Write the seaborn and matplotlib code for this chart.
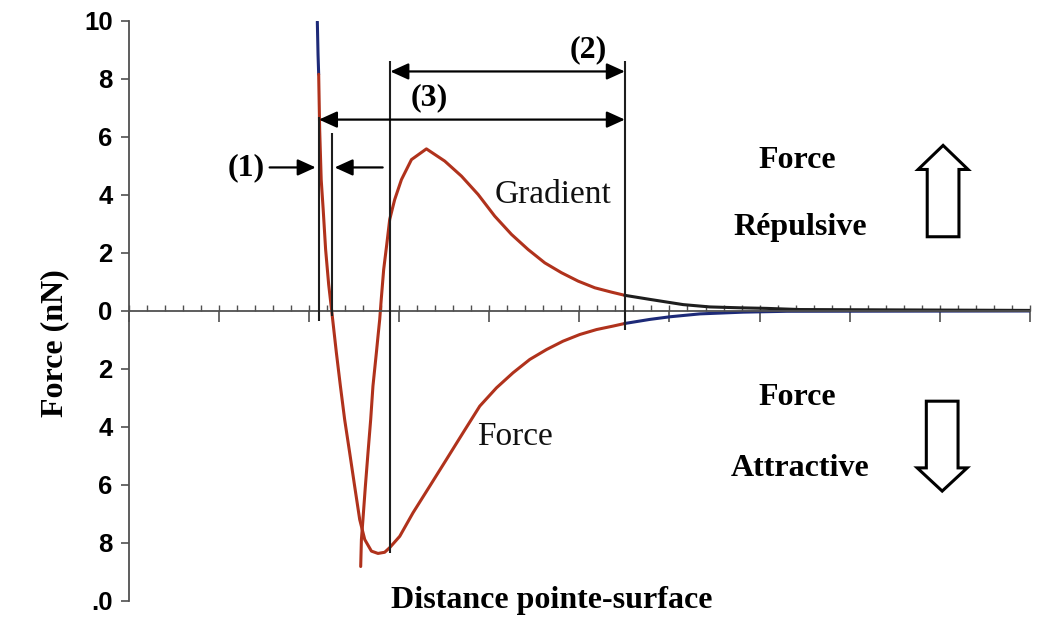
import numpy as np
import pandas as pd
import seaborn as sns
import matplotlib
matplotlib.use("Agg")
import matplotlib.pyplot as plt
from matplotlib.patches import Polygon

# Tip-sample force and force gradient versus tip-surface distance (arbitrary units)
force_x = [2.094, 2.102, 2.109, 2.120, 2.137, 2.159, 2.186, 2.220, 2.253, 2.305,
           2.350, 2.397, 2.453, 2.508, 2.564, 2.620, 2.694, 2.767, 2.841, 2.897,
           3.008, 3.155, 3.341, 3.526, 3.710, 3.896, 4.081, 4.265, 4.451, 4.636,
           4.820, 5.006, 5.191, 5.375, 5.505, 5.783, 6.004, 6.337, 6.815, 7.303,
           10.0]
force_y = [9.98, 8.84, 8.16, 6.26, 4.53, 3.50, 2.12, 0.91, 0.02, -1.43,
           -2.59, -3.74, -4.89, -6.04, -7.19, -7.88, -8.28, -8.36, -8.32, -8.16,
           -7.77, -6.96, -6.04, -5.12, -4.20, -3.28, -2.65, -2.13, -1.67, -1.33,
           -1.04, -0.81, -0.64, -0.52, -0.43, -0.29, -0.20, -0.10, -0.04, -0.01,
           0.0]

gradient_x = [2.575, 2.583, 2.600, 2.627, 2.656, 2.686, 2.711, 2.749, 2.769, 2.786,
              2.803, 2.830, 2.864, 2.897, 2.952, 3.027, 3.138, 3.304, 3.507, 3.693,
              3.877, 4.062, 4.248, 4.432, 4.617, 4.802, 4.987, 5.172, 5.357, 5.505,
              5.783, 6.152, 6.448, 6.781, 7.078, 7.447, 10.0]
gradient_y = [-8.81, -7.88, -7.19, -6.04, -4.89, -3.74, -2.59, -1.44, -0.81, -0.29,
              0.40, 1.43, 2.29, 3.16, 3.84, 4.53, 5.22, 5.59, 5.17, 4.65,
              4.02, 3.27, 2.64, 2.12, 1.66, 1.32, 1.03, 0.80, 0.65, 0.54,
              0.40, 0.22, 0.14, 0.11, 0.09, 0.05, 0.02]

# Zone boundaries (distance)
x_contact = 2.112      # left edge of zones (1) and (3)
x_zero = 2.256         # force changes sign
x_min = 2.904          # force minimum
x_limit = 5.505        # right edge of zones (2) and (3)

y_ticks = [10, 8, 6, 4, 2, 0, -2, -4, -6, -8, -10]
y_tick_labels = ["10", "8", "6", "4", "2", "0", "2", "4", "6", "8", ".0"]

RED = "#b0321c"
NAVY = "#1d2a78"
DARK = "#1e1e1e"
AXIS = "#505050"

sns.set_theme(style="white")
plt.rcParams["font.family"] = ["Liberation Serif", "DejaVu Serif"]
plt.rcParams["text.color"] = "black"
plt.rcParams["axes.labelcolor"] = "black"

fig = plt.figure(figsize=(10.51, 6.38), dpi=100)
ax = fig.add_axes([0.1223, 0.058, 0.8578, 0.9091])

force = pd.DataFrame({"x": force_x, "y": force_y})
grad = pd.DataFrame({"x": gradient_x, "y": gradient_y})

lw = 2.2
# Force: steep repulsive wall, red inside the interaction zone, blue tail
seg = force[force.x <= 2.109]
sns.lineplot(data=seg, x="x", y="y", ax=ax, color=NAVY, lw=lw, sort=False, estimator=None)
seg = force[(force.x >= 2.109) & (force.x <= x_limit)]
sns.lineplot(data=seg, x="x", y="y", ax=ax, color=RED, lw=lw, sort=False, estimator=None)
seg = force[force.x >= x_limit]
sns.lineplot(data=seg, x="x", y="y", ax=ax, color=NAVY, lw=lw, sort=False, estimator=None)

# Gradient: red inside the interaction zone, black tail
seg = grad[grad.x <= x_limit]
sns.lineplot(data=seg, x="x", y="y", ax=ax, color=RED, lw=lw, sort=False, estimator=None)
seg = grad[grad.x >= x_limit]
sns.lineplot(data=seg, x="x", y="y", ax=ax, color=DARK, lw=lw, sort=False, estimator=None)

# Vertical zone markers
vl = dict(color=DARK, lw=1.5, zorder=3)
ax.vlines(x_contact, -0.35, 6.7, **vl)
ax.vlines(x_zero, -0.18, 6.14, **vl)
ax.vlines(x_min, -8.33, 8.61, **vl)
ax.vlines(x_limit, -0.64, 8.61, **vl)

# Dimension arrows
arrow = dict(arrowstyle="<|-|>,head_length=0.55,head_width=0.25", color="black",
             lw=1.6, mutation_scale=20, shrinkA=0, shrinkB=0)
ax.annotate("", xy=(x_limit, 8.26), xytext=(x_min, 8.26), arrowprops=arrow)
ax.annotate("", xy=(x_limit, 6.60), xytext=(x_contact, 6.60), arrowprops=arrow)
single = dict(arrowstyle="-|>,head_length=0.55,head_width=0.25", color="black",
              lw=1.6, mutation_scale=20, shrinkA=0, shrinkB=0)
ax.annotate("", xy=(2.076, 4.95), xytext=(1.565, 4.95), arrowprops=single)
ax.annotate("", xy=(2.286, 4.95), xytext=(2.819, 4.95), arrowprops=single)

bold = dict(fontsize=23, fontweight="bold", ha="center", va="center", color="black")
ax.text(1.307, 4.95, "(1)", **bold)
ax.text(5.098, 9.02, "(2)", **bold)
ax.text(3.341, 7.35, "(3)", **bold)

ax.text(4.709, 4.02, "Gradient", fontsize=24, ha="center", va="center", color="#111111")
ax.text(4.284, -4.32, "Force", fontsize=24, ha="center", va="center", color="#111111")

ax.text(7.414, 5.19, "Force", **bold)
ax.text(7.447, 2.88, "Répulsive", **bold)
ax.text(7.414, -2.98, "Force", **bold)
ax.text(7.447, -5.43, "Attractive", **bold)

# Hollow direction arrows
def hollow_arrow(cx, y_tail, y_base, y_tip, shaft_half, head_half):
    pts = [(cx - shaft_half, y_tail), (cx - shaft_half, y_base), (cx - head_half, y_base),
           (cx, y_tip), (cx + head_half, y_base), (cx + shaft_half, y_base),
           (cx + shaft_half, y_tail)]
    ax.add_patch(Polygon(pts, closed=True, facecolor="white", edgecolor="black",
                         lw=2.2, joinstyle="miter", zorder=4))

hollow_arrow(9.035, 2.56, 4.88, 5.71, 0.176, 0.277)
hollow_arrow(9.025, -3.11, -5.41, -6.21, 0.176, 0.277)

# Axes
ax.set_xlim(0, 10)
ax.set_ylim(-10, 10)
for s in ("top", "right"):
    ax.spines[s].set_visible(False)
ax.spines["bottom"].set_position(("data", 0))
ax.spines["bottom"].set_color(AXIS)
ax.spines["bottom"].set_linewidth(1.3)
ax.spines["left"].set_color(AXIS)
ax.spines["left"].set_linewidth(1.3)

ax.xaxis.remove_overlapping_locs = False
ax.set_xticks(np.arange(0, 10.01, 1.0))
ax.set_xticks(np.arange(0, 10.01, 0.2), minor=True)
ax.tick_params(axis="x", which="major", direction="out", length=8, width=1.2,
               color=AXIS, labelbottom=False, bottom=True)
ax.tick_params(axis="x", which="minor", direction="in", length=4.5, width=1.0,
               color=AXIS, bottom=True)

ax.set_yticks(y_ticks)
ax.set_yticklabels(y_tick_labels, family=["Liberation Sans", "DejaVu Sans"],
                   fontweight="bold", fontsize=18.5)
ax.tick_params(axis="y", direction="out", length=6, width=1.2, color=AXIS,
               pad=5.5, left=True, labelcolor="black")

ax.set_xlabel("")
ax.set_ylabel("Force (nN)", fontsize=23, fontweight="bold", color="black")
ax.yaxis.set_label_coords(-0.0655, 0.445)
ax.text(0.469, 0.0, "Distance pointe-surface", transform=ax.transAxes,
        fontsize=23, fontweight="bold", ha="center", va="center", color="black")

fig.savefig("out.png", dpi=100, facecolor="white")
